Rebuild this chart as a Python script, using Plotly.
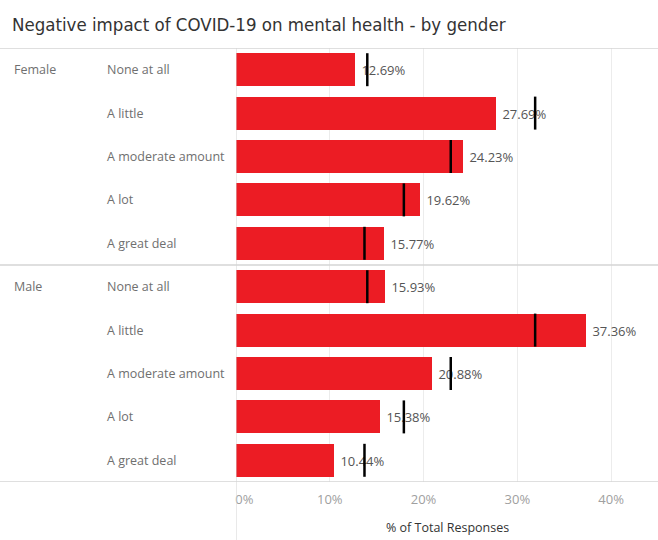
import plotly.graph_objects as go

# Survey responses: share of respondents per answer, split by gender
categories = ["None at all", "A little", "A moderate amount", "A lot", "A great deal"]
genders = ["Female", "Male"]
female_pct = [12.69, 27.69, 24.23, 19.62, 15.77]
male_pct = [15.93, 37.36, 20.88, 15.38, 10.44]
# Overall share across all respondents (reference marks)
overall_pct = [14.0, 31.9, 22.9, 17.9, 13.7]

tick_vals = [0, 10, 20, 30, 40]
# the first label is nudged right so it sits inside the pane
tick_text = ["\u00a0" * 5 + "0%", "10%", "20%", "30%", "40%"]

W, H = 658, 540
ML, MR, MT, MB = 236, 0, 48, 58
plot_w = W - ML - MR

RED = "#EC1C24"
LABEL_GREY = "#6f6f6f"
LINE_GREY = "#d4d4d4"
TITLE_FONT = "Liberation Sans Narrow, DejaVu Sans Condensed, Arial Narrow, sans-serif"

rows_x, rows_y, rows_cat = [], [], []
for g, vals in zip(genders, [female_pct, male_pct]):
    for c, v in zip(categories, vals):
        rows_x.append(v)
        rows_y.append(len(rows_y))
        rows_cat.append((g, c))

fig = go.Figure()

fig.add_trace(go.Bar(
    x=rows_x, y=rows_y, orientation="h",
    marker=dict(color=RED, line=dict(width=0)),
    width=0.76,
    text=[f" {v:.2f}%" for v in rows_x],
    textposition="outside",
    textfont=dict(family="Open Sans", size=13, color="#555555"),
    cliponaxis=False,
    hoverinfo="skip",
))

# Reference marks: overall share drawn across each bar
ref_x, ref_y = [], []
for i, (g, c) in enumerate(rows_cat):
    v = overall_pct[categories.index(c)]
    ref_x += [v, v, None]
    ref_y += [i - 0.38, i + 0.38, None]
fig.add_trace(go.Scatter(
    x=ref_x, y=ref_y, mode="lines",
    line=dict(color="#000000", width=2.5),
    hoverinfo="skip", cliponaxis=False,
))

def px_to_paper(px):
    return (px - ML) / plot_w

annotations = []
for i, (g, c) in enumerate(rows_cat):
    annotations.append(dict(
        x=px_to_paper(105), xref="paper", y=i, yref="y",
        text=c, showarrow=False, xanchor="left", yanchor="middle",
        font=dict(family="Open Sans", size=12.5, color=LABEL_GREY),
    ))
for k, g in enumerate(genders):
    annotations.append(dict(
        x=px_to_paper(12), xref="paper", y=k * 5, yref="y",
        text=g, showarrow=False, xanchor="left", yanchor="middle",
        font=dict(family="Open Sans", size=12.5, color=LABEL_GREY),
    ))
annotations.append(dict(
    x=px_to_paper(10), xref="paper", y=(MT - 24) / (H - MT - MB) + 1, yref="paper",
    text="Negative impact of COVID-19 on mental health - by gender",
    showarrow=False, xanchor="left", yanchor="middle",
    font=dict(family=TITLE_FONT, size=18.5, color="#333333"),
))
annotations.append(dict(
    x=0.5, xref="paper", y=-(527 - (H - MB)) / (H - MT - MB), yref="paper",
    text="% of Total Responses", showarrow=False,
    xanchor="center", yanchor="middle",
    font=dict(family="Open Sans", size=12.5, color="#333333"),
))

shapes = []
for yv in [-0.5, 4.5, 9.5]:
    shapes.append(dict(
        type="line", xref="paper", yref="y",
        x0=px_to_paper(0), x1=1, y0=yv, y1=yv,
        line=dict(color=LINE_GREY, width=1.5), layer="above",
    ))
shapes.append(dict(
    type="line", xref="x", yref="paper",
    x0=0, x1=0, y0=-MB / (H - MT - MB), y1=1,
    line=dict(color=LINE_GREY, width=1), layer="above",
))

fig.update_layout(
    width=W, height=H,
    margin=dict(l=ML, r=MR, t=MT, b=MB),
    paper_bgcolor="white", plot_bgcolor="white",
    showlegend=False,
    bargap=0,
    annotations=annotations,
    shapes=shapes,
    xaxis=dict(
        range=[0, 45], tickvals=tick_vals, ticktext=tick_text,
        showgrid=True, gridcolor="#ececec", gridwidth=1,
        zeroline=False, showline=False, ticks="",
        ticklabelstandoff=8,
        tickfont=dict(family="Open Sans", size=13, color="#a0a0a0"),
        fixedrange=True,
    ),
    yaxis=dict(
        range=[9.5, -0.5], showgrid=False, zeroline=False,
        showticklabels=False, ticks="", fixedrange=True,
    ),
)

fig.write_html("out.html", config={"displayModeBar": False})
